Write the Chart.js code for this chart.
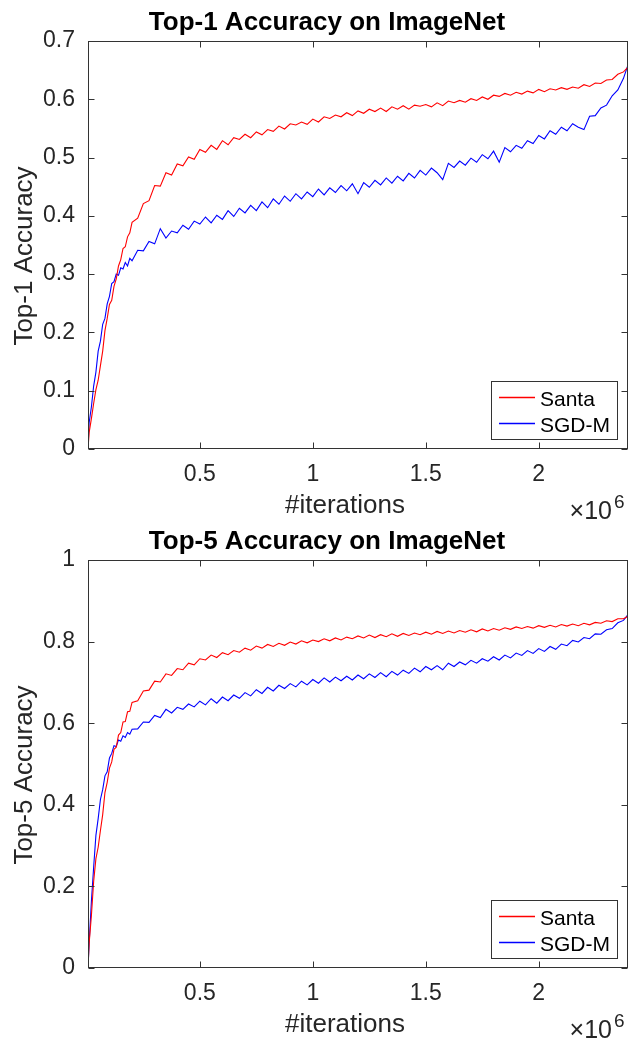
<!DOCTYPE html>
<html>
<head>
<meta charset="utf-8">
<script src="https://cdn.jsdelivr.net/npm/chart.js@4.4.1/dist/chart.umd.min.js"></script>
<style>
html,body{margin:0;padding:0;background:#fff;width:629px;height:1043px;overflow:hidden}
.box{position:absolute;left:0;width:629px}
canvas{display:block}
</style>
</head>
<body>
<div class="box" style="top:0;height:520px"><canvas id="c1" width="629" height="520"></canvas></div>
<div class="box" style="top:520px;height:523px"><canvas id="c2" width="629" height="523"></canvas></div>
<script>
// ---------- data (iterations in units of 1e6) ----------
const iterations = [
  0.005,0.01,0.02,0.03,0.04,0.05,0.06,0.07,0.08,0.09,0.10,0.11,0.12,0.13,0.14,0.15,0.16,0.17,0.18,0.19,0.20,
  0.225,0.25,0.275,0.30,0.325,0.35,0.375,0.40,0.425,0.45,0.475,0.50,0.525,0.55,0.575,0.60,0.625,0.65,0.675,0.70,
  0.725,0.75,0.775,0.80,0.825,0.85,0.875,0.90,0.925,0.95,0.975,1.00,1.025,1.05,1.075,1.10,1.125,1.15,1.175,1.20,
  1.225,1.25,1.275,1.30,1.325,1.35,1.375,1.40,1.425,1.45,1.475,1.50,1.525,1.55,1.575,1.60,1.625,1.65,1.675,1.70,
  1.725,1.75,1.775,1.80,1.825,1.85,1.875,1.90,1.925,1.95,1.975,2.00,2.025,2.05,2.075,2.10,2.125,2.15,2.175,2.20,
  2.225,2.25,2.275,2.30,2.325,2.35,2.375,2.395
];

const top1Santa = [
  0,0.028,0.052,0.078,0.102,0.118,0.143,0.168,0.203,0.224,0.248,0.255,0.279,0.292,0.314,0.325,0.344,0.347,0.364,0.371,0.389,
  0.396,0.421,0.426,0.452,0.451,0.474,0.470,0.489,0.486,0.501,0.497,0.514,0.509,0.521,0.514,0.529,0.522,0.534,0.531,0.540,
  0.534,0.544,0.539,0.548,0.545,0.554,0.549,0.558,0.556,0.561,0.557,0.566,0.561,0.570,0.567,0.573,0.570,0.577,0.572,0.580,
  0.576,0.583,0.579,0.585,0.579,0.587,0.583,0.589,0.583,0.590,0.588,0.591,0.587,0.594,0.589,0.597,0.594,0.598,0.595,0.601,
  0.598,0.604,0.600,0.607,0.605,0.610,0.607,0.612,0.609,0.614,0.611,0.617,0.613,0.618,0.616,0.620,0.617,0.621,0.619,0.625,
  0.622,0.628,0.627,0.633,0.634,0.643,0.647,0.655
];

const top1SGDM = [
  0,0.045,0.072,0.108,0.132,0.168,0.185,0.214,0.224,0.249,0.262,0.284,0.287,0.300,0.298,0.311,0.309,0.320,0.314,0.327,0.323,
  0.341,0.340,0.356,0.352,0.378,0.362,0.374,0.371,0.384,0.377,0.391,0.386,0.398,0.388,0.401,0.394,0.409,0.399,0.413,0.405,
  0.418,0.409,0.424,0.414,0.429,0.420,0.434,0.425,0.438,0.429,0.441,0.433,0.446,0.436,0.448,0.440,0.452,0.443,0.455,0.438,
  0.457,0.449,0.461,0.453,0.465,0.456,0.468,0.460,0.473,0.465,0.478,0.470,0.482,0.474,0.462,0.490,0.483,0.494,0.487,0.499,
  0.492,0.505,0.498,0.511,0.492,0.517,0.510,0.521,0.516,0.529,0.524,0.538,0.532,0.546,0.540,0.552,0.546,0.558,0.552,0.548,
  0.571,0.572,0.585,0.590,0.606,0.616,0.636,0.659
];

const top5Santa = [
  0,0.060,0.128,0.212,0.268,0.296,0.337,0.376,0.430,0.455,0.490,0.505,0.536,0.541,0.571,0.577,0.603,0.604,0.628,0.629,0.651,
  0.655,0.679,0.681,0.703,0.701,0.721,0.717,0.734,0.731,0.747,0.743,0.758,0.755,0.767,0.761,0.773,0.768,0.778,0.774,0.784,
  0.779,0.789,0.784,0.793,0.788,0.796,0.791,0.799,0.794,0.802,0.797,0.804,0.800,0.807,0.802,0.809,0.804,0.811,0.807,0.814,
  0.809,0.816,0.810,0.817,0.812,0.819,0.813,0.820,0.815,0.821,0.817,0.823,0.818,0.825,0.820,0.826,0.821,0.827,0.823,0.829,
  0.824,0.831,0.826,0.832,0.828,0.834,0.830,0.836,0.832,0.837,0.833,0.839,0.835,0.840,0.836,0.842,0.838,0.843,0.839,0.845,
  0.841,0.847,0.845,0.851,0.849,0.856,0.856,0.862
];

const top5SGDM = [
  0,0.060,0.163,0.247,0.325,0.366,0.413,0.437,0.471,0.481,0.515,0.526,0.545,0.543,0.559,0.556,0.569,0.565,0.577,0.573,0.585,
  0.586,0.603,0.602,0.619,0.614,0.634,0.625,0.639,0.634,0.647,0.640,0.654,0.645,0.660,0.649,0.664,0.655,0.669,0.661,0.675,
  0.667,0.682,0.673,0.688,0.679,0.693,0.685,0.697,0.689,0.703,0.694,0.707,0.698,0.711,0.701,0.713,0.704,0.715,0.706,0.718,
  0.709,0.721,0.712,0.724,0.714,0.727,0.718,0.730,0.722,0.735,0.726,0.739,0.731,0.741,0.731,0.747,0.739,0.750,0.743,0.754,
  0.747,0.758,0.752,0.763,0.755,0.767,0.760,0.772,0.766,0.778,0.771,0.783,0.776,0.788,0.781,0.794,0.790,0.803,0.799,0.810,
  0.807,0.819,0.818,0.829,0.832,0.846,0.852,0.866
];

const seriesNames = ['Santa', 'SGD-M'];
const seriesColors = ['#ff0000', '#0000ff'];
const xTicks = [0.5, 1, 1.5, 2];
const xTickLabels = ['0.5', '1', '1.5', '2'];
const yTicks1 = [0, 0.1, 0.2, 0.3, 0.4, 0.5, 0.6, 0.7];
const yTickLabels1 = ['0', '0.1', '0.2', '0.3', '0.4', '0.5', '0.6', '0.7'];
const yTicks5 = [0, 0.2, 0.4, 0.6, 0.8, 1];
const yTickLabels5 = ['0', '0.2', '0.4', '0.6', '0.8', '1'];
const titles = ['Top-1 Accuracy on ImageNet', 'Top-5 Accuracy on ImageNet'];
const yLabels = ['Top-1 Accuracy', 'Top-5 Accuracy'];
const xLabel = '#iterations';
const xExponent = '6';

// ---------- rendering ----------
const FONT = "'Liberation Sans', Arial, Helvetica, sans-serif";
const TXT = '#262626';

const decor = {
  id: 'decor',
  afterDraw(chart, args, o) {
    const {ctx, chartArea: a, scales: {x, y}} = chart;
    ctx.save();
    const L = Math.round(a.left) + 0.5, R = Math.round(a.right) - 0.5;
    const T = Math.round(a.top) + 0.5, B = Math.round(a.bottom) - 0.5;
    ctx.strokeStyle = '#333333';
    ctx.lineWidth = 1;
    ctx.strokeRect(L, T, R - L, B - T);
    ctx.beginPath();
    x.ticks.forEach(t => {
      const px = Math.round(x.getPixelForValue(t.value)) + 0.5;
      ctx.moveTo(px, B); ctx.lineTo(px, B - 6);
      ctx.moveTo(px, T); ctx.lineTo(px, T + 6);
    });
    y.ticks.forEach(t => {
      const py = Math.round(y.getPixelForValue(t.value)) + 0.5;
      ctx.moveTo(L, py); ctx.lineTo(L + 6, py);
      ctx.moveTo(R, py); ctx.lineTo(R - 6, py);
    });
    ctx.stroke();

    // title
    ctx.fillStyle = '#000';
    ctx.font = 'bold 26px ' + FONT;
    ctx.textAlign = 'center';
    ctx.textBaseline = 'alphabetic';
    ctx.fillText(o.title, 327, a.top - 11.5);

    // x label
    ctx.fillStyle = TXT;
    ctx.font = '26px ' + FONT;
    ctx.fillText(o.xLabel, 345, a.bottom + 64);

    // exponent
    ctx.font = '25px ' + FONT;
    ctx.textAlign = 'right';
    ctx.fillText('\u00d710', 612, a.bottom + 70);
    ctx.font = '19px ' + FONT;
    ctx.textAlign = 'left';
    ctx.fillText(o.exponent, 614, a.bottom + 59);

    // y label
    ctx.save();
    ctx.translate(32, (a.top + a.bottom) / 2 + 11);
    ctx.rotate(-Math.PI / 2);
    ctx.font = '26px ' + FONT;
    ctx.textAlign = 'center';
    ctx.fillText(o.yLabel, 0, 0);
    ctx.restore();

    // legend
    const bx = 491.5, bw = 126, bh = 58;
    const by = Math.round(a.bottom) - 10 - bh + 0.5;
    ctx.fillStyle = '#fff';
    ctx.fillRect(bx, by, bw, bh);
    ctx.strokeStyle = '#333333';
    ctx.lineWidth = 1;
    ctx.strokeRect(bx, by, bw, bh);
    ctx.font = '21px ' + FONT;
    ctx.textAlign = 'left';
    chart.data.datasets.forEach((ds, i) => {
      const ly = Math.round(by + 15 + i * 26) + 0.5;
      ctx.strokeStyle = seriesColors[i];
      ctx.lineWidth = 1.3;
      ctx.beginPath();
      ctx.moveTo(499, ly);
      ctx.lineTo(535, ly);
      ctx.stroke();
      ctx.fillStyle = '#000';
      ctx.fillText(ds.label, 540, ly + 8);
    });
    ctx.restore();
  }
};

function makeChart(id, santa, sgdm, yTicks, yTickLabels, yMax, topPad, xHeight, idx) {
  const pts = arr => iterations.map((v, i) => ({x: v, y: arr[i]}));
  return new Chart(document.getElementById(id), {
    type: 'line',
    data: {
      datasets: [
        {label: seriesNames[0], data: pts(santa), borderColor: seriesColors[0], borderWidth: 1.1, pointRadius: 0, tension: 0, fill: false},
        {label: seriesNames[1], data: pts(sgdm), borderColor: seriesColors[1], borderWidth: 1.1, pointRadius: 0, tension: 0, fill: false}
      ]
    },
    options: {
      responsive: false,
      animation: false,
      events: [],
      layout: {padding: {top: topPad, right: 1, left: 0, bottom: 0}},
      plugins: {
        legend: {display: false},
        tooltip: {enabled: false},
        title: {display: false},
        decor: {title: titles[idx], yLabel: yLabels[idx], xLabel: xLabel, exponent: xExponent}
      },
      scales: {
        x: {
          type: 'linear', min: 0.005, max: 2.395,
          grid: {display: false, drawTicks: false},
          border: {display: false},
          afterBuildTicks: s => { s.ticks = xTicks.map(v => ({value: v})); },
          afterFit: s => { s.height = xHeight; },
          ticks: {
            padding: 12, color: TXT, maxRotation: 0, autoSkip: false,
            font: {family: FONT, size: 23},
            callback: (v) => { const k = xTicks.indexOf(v); return k >= 0 ? xTickLabels[k] : ''; }
          }
        },
        y: {
          type: 'linear', min: 0, max: yMax,
          grid: {display: false, drawTicks: false},
          border: {display: false},
          afterBuildTicks: s => { s.ticks = yTicks.map(v => ({value: v})); },
          afterFit: s => { s.width = 88; },
          ticks: {
            padding: 13, color: TXT, autoSkip: false,
            font: {family: FONT, size: 23},
            callback: (v) => { const k = yTicks.indexOf(v); return k >= 0 ? yTickLabels[k] : ''; }
          }
        }
      }
    },
    plugins: [decor]
  });
}

makeChart('c1', top1Santa, top1SGDM, yTicks1, yTickLabels1, 0.7, 41, 71, 0);
makeChart('c2', top5Santa, top5SGDM, yTicks5, yTickLabels5, 1, 40, 75, 1);
</script>
</body>
</html>
